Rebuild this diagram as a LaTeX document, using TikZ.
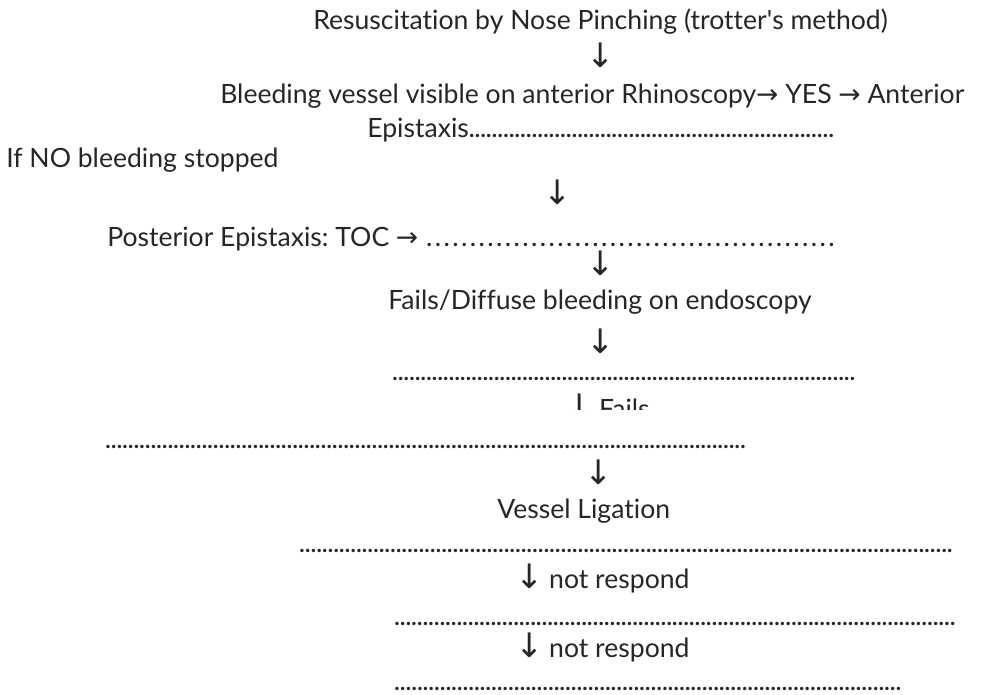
\documentclass[tikz,border=0pt]{standalone}
\usepackage{fontspec}
\setmainfont[Ligatures=NoCommon]{Lato}
\newfontfamily\arrowfont{DejaVu Sans}
\frenchspacing
\newcommand{\dn}{{\arrowfont\fontsize{24}{24}\selectfont\symbol{"2193}}}
\newcommand{\rt}{{\arrowfont\symbol{"2192}}}
\newcommand{\dotfil}{\xleaders\hbox to 4pt{\hss\fontsize{16}{16}\selectfont\bfseries.\hss}\hfill}
\newcommand{\widedotfil}{\xleaders\hbox to 6.2pt{\hss\fontsize{16}{16}\selectfont\bfseries.\hss}\hfill}
\definecolor{ink}{HTML}{262626}
\tikzset{
  txt/.style={anchor=base west, inner sep=0pt, text=ink, font=\fontsize{18.9}{23}\selectfont},
  dnarrow/.style={anchor=center, inner sep=0pt, text=ink, font=\fontsize{18.9}{23}\selectfont}
}
\begin{document}
\begin{tikzpicture}[x=0.025cm,y=-0.025cm]
\useasboundingbox (0,0) rectangle (984,695);

\node[txt] (pinch) at (313,30) {Resuscitation by Nose Pinching (trotter\textquotesingle s method)};
\node[dnarrow] (a1) at (601,55) {\dn};
\node[txt] (rhino) at (220,104) {Bleeding vessel visible on anterior Rhinoscopy\rt\ YES \rt\ Anterior};
\node[txt] (ant) at (367,138) {\makebox[11.65cm][l]{Epistaxis\dotfil}};

\node[txt] (ifno) at (6,168) {If NO bleeding stopped};
\node[dnarrow] (a2) at (558,192) {\dn};
\node[txt] (post) at (107,246) {\makebox[18.2cm][l]{Posterior Epistaxis: TOC \rt\ \widedotfil}};
\node[dnarrow] (a3) at (601,263) {\dn};
\node[txt] (diffuse) at (388,309) {Fails/Diffuse bleeding on endoscopy};
\node[dnarrow] (a4) at (601,341) {\dn};
\node[txt] (blank1) at (392,380) {\makebox[11.55cm][l]{\dotfil}};

% scanned line, lower half lost
\begin{scope}
\clip (470,385) rectangle (710,409);
\node[txt] (fails) at (565,418) {\dn\hspace{4pt}Fails};
\end{scope}

\node[txt] (blank2) at (105,448) {\makebox[15.98cm][l]{\dotfil}};
\node[dnarrow] (a5) at (599,472) {\dn};
\node[txt] (ligation) at (497,518) {Vessel Ligation};
\node[txt] (blank3) at (299,552) {\makebox[16.3cm][l]{\dotfil}};
\node[txt] (resp1) at (515,588) {\dn\hspace{4pt}not respond};
\node[txt] (blank4) at (394,625) {\makebox[14cm][l]{\dotfil}};
\node[txt] (resp2) at (515,657) {\dn\hspace{4pt}not respond};
\node[txt] (blank5) at (394,690) {\makebox[12.65cm][l]{\dotfil}};
\end{tikzpicture}
\end{document}
